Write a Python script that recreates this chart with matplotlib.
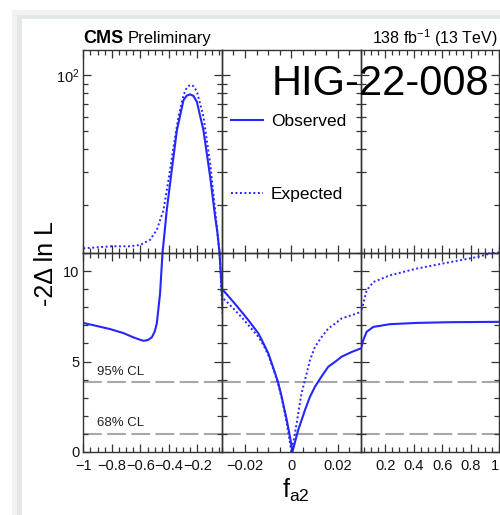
import matplotlib
matplotlib.use("Agg")
import matplotlib.pyplot as plt
from matplotlib.patches import Rectangle
from matplotlib.lines import Line2D
from matplotlib.ticker import FixedLocator, MultipleLocator, NullFormatter, LogLocator

plt.rcParams['font.family'] = ['Liberation Sans', 'DejaVu Sans']
plt.rcParams['mathtext.fontset'] = 'custom'
plt.rcParams['mathtext.rm'] = 'Liberation Sans'
plt.rcParams['mathtext.it'] = 'Liberation Sans:italic'
plt.rcParams['mathtext.bf'] = 'Liberation Sans:bold'

# Likelihood scan: -2 Delta ln L versus f_a2
fa2_obs = [-1.0, -0.9, -0.813, -0.72, -0.649, -0.6, -0.579, -0.55, -0.52, -0.50,
           -0.485, -0.462, -0.445, -0.415, -0.38, -0.344, -0.298, -0.275, -0.251,
           -0.228, -0.204, -0.158, -0.111, -0.076, -0.06, -0.045, -0.03,
           -0.0271, -0.0243, -0.0214, -0.0185, -0.0142, -0.012, -0.0099, -0.0070,
           -0.0056, -0.0042, -0.0020, -0.0006, 0.0005,
           0.0016, 0.0030, 0.0059, 0.0080, 0.0102, 0.0131, 0.0159, 0.0188, 0.0217,
           0.026, 0.030,
           0.046, 0.070, 0.117, 0.234, 0.42, 0.655, 1.0]
nll_obs = [7.14, 6.96, 6.80, 6.58, 6.34, 6.20, 6.15, 6.18, 6.34, 6.65,
           7.10, 8.77, 11.0, 18.8, 30.9, 50.6, 73.5, 77.8, 79.0,
           77.5, 72.0, 50.6, 28.5, 17.3, 14.2, 11.0, 9.04,
           8.62, 8.20, 7.75, 7.29, 6.56, 6.00, 5.45, 4.35,
           3.79, 3.06, 1.77, 0.83, 0.0,
           0.55, 1.22, 2.32, 3.04, 3.61, 4.19, 4.71, 4.98, 5.27,
           5.53, 5.73,
           6.19, 6.65, 6.92, 7.07, 7.14, 7.18, 7.20]

fa2_exp = [-1.0, -0.8, -0.672, -0.602, -0.532, -0.485, -0.438, -0.403, -0.368,
           -0.333, -0.298, -0.275, -0.251, -0.228, -0.204, -0.158, -0.111, -0.076,
           -0.045, -0.03,
           -0.0271, -0.0243, -0.0214, -0.0185, -0.0142, -0.012, -0.0099, -0.0070,
           -0.0056, -0.0042, -0.0020, 0.0,
           0.0013, 0.0023, 0.0033, 0.0044, 0.0066, 0.0080, 0.0102, 0.0131, 0.0159,
           0.0188, 0.0217, 0.026, 0.030,
           0.046, 0.070, 0.117, 0.234, 0.42, 0.655, 0.85, 1.0]
nll_exp = [11.7, 12.0, 12.0, 12.2, 13.0, 14.7, 18.8, 27.3, 41.0,
           60.0, 78.0, 86.0, 89.0, 87.5, 82.0, 60.0, 33.6, 18.8,
           11.0, 8.58,
           8.22, 7.85, 7.45, 7.02, 6.37, 5.90, 5.35, 4.30,
           3.70, 3.00, 1.60, 0.0,
           0.83, 1.58, 2.40, 3.24, 4.35, 5.07, 5.82, 6.37, 6.83,
           7.10, 7.39, 7.57, 7.75,
           8.20, 8.95, 9.41, 9.78, 10.15, 10.51, 10.80, 11.12]

cl_levels = [1.0, 3.84]
cl_labels = ["68% CL", "95% CL"]

x_ranges = [(-1.0, -0.03), (-0.03, 0.03), (0.03, 1.0)]
x_major = [[-1.0, -0.8, -0.6, -0.4, -0.2], [-0.02, 0.0, 0.02], [0.2, 0.4, 0.6, 0.8, 1.0]]
x_ticklabels = [["\u22121", "\u22120.8", "\u22120.6", "\u22120.4", "\u22120.2"],
                ["\u22120.02", "0", "0.02"],
                ["0.2", "0.4", "0.6", "0.8", "1"]]
x_minor_step = [0.05, 0.005, 0.05]
y_lin_range = (0.0, 11.0)
y_log_range = (11.0, 137.0)

W, H = 500, 515
fig = plt.figure(figsize=(W / 100, H / 100), dpi=100)
fig.patch.set_facecolor('white')


def fx(px):
    return px / W


def fy(py):
    return 1.0 - py / H


# slide frame with a soft edge
fig.patches.append(Rectangle((fx(12), 0), 1 - fx(12), fy(10), transform=fig.transFigure,
                             facecolor='#f1f3f3', edgecolor='none', zorder=-10))
fig.patches.append(Rectangle((fx(17), 0), 1 - fx(17), fy(15), transform=fig.transFigure,
                             facecolor='#e4e7e7', edgecolor='none', zorder=-9))
fig.patches.append(Rectangle((fx(21.5), 0), 1 - fx(21.5), fy(18.5), transform=fig.transFigure,
                             facecolor='white', edgecolor='none', zorder=-8))

col_px = [83.3, 221.7, 361.0, 499.0]
row_top, row_mid, row_bot = 50.0, 253.3, 451.7

line_col = '#2626ff'
spine_col = '#333333'
tick_fs = 10.5

axes_top, axes_bot = [], []
for i in range(3):
    x0, x1 = col_px[i], col_px[i + 1]
    for row in ('top', 'bot'):
        if row == 'top':
            rect = [fx(x0), fy(row_mid), fx(x1) - fx(x0), (row_mid - row_top) / H]
        else:
            rect = [fx(x0), fy(row_bot), fx(x1) - fx(x0), (row_bot - row_mid) / H]
        ax = fig.add_axes(rect)
        ax.set_facecolor('none')
        ax.set_xlim(*x_ranges[i])
        ax.plot(fa2_obs, nll_obs, color=line_col, lw=1.5, solid_joinstyle='round')
        ax.plot(fa2_exp, nll_exp, color=line_col, lw=1.4, linestyle=(0, (1, 1.3)))
        ax.xaxis.set_major_locator(FixedLocator(x_major[i]))
        ax.xaxis.set_minor_locator(MultipleLocator(x_minor_step[i]))
        ax.set_xticklabels(x_ticklabels[i])
        if row == 'top':
            ax.set_yscale('log')
            ax.set_ylim(*y_log_range)
            ax.yaxis.set_major_locator(FixedLocator([100.0]))
            ax.set_yticklabels([r'$\mathregular{10^{2}}$'])
            ax.yaxis.set_minor_locator(LogLocator(base=10, subs=[2, 3, 4, 5, 6, 7, 8, 9]))
            ax.yaxis.set_minor_formatter(NullFormatter())
            axes_top.append(ax)
        else:
            ax.set_ylim(*y_lin_range)
            ax.yaxis.set_major_locator(FixedLocator([0, 5, 10]))
            ax.yaxis.set_minor_locator(MultipleLocator(1))
            for lev in cl_levels:
                ax.axhline(lev, color='#a8a8a8', lw=1.5, dashes=(9, 2.6), zorder=1)
            axes_bot.append(ax)
        for s in ax.spines.values():
            s.set_color(spine_col)
            s.set_linewidth(1.0)
        ax.tick_params(which='both', direction='in', top=True, right=True,
                       color=spine_col, width=0.9, labelsize=tick_fs, labelcolor='#111111')
        ax.tick_params(which='major', length=6)
        ax.tick_params(which='minor', length=3.5)
        ax.tick_params(axis='x', pad=5)
        ax.tick_params(axis='y', pad=3)
        ax.tick_params(labelbottom=(row == 'bot'), labelleft=(i == 0))

# keep the last label of the right pad inside the canvas
axes_bot[2].get_xticklabels()[-1].set_horizontalalignment('right')

# confidence-level labels
for lev, lab in zip(cl_levels, cl_labels):
    axes_bot[0].text(-0.905, lev + 0.58, lab, fontsize=9.5, color='#222222',
                     ha='left', va='center')

# legend in the upper middle pad
handles = [Line2D([], [], color=line_col, lw=1.5),
           Line2D([], [], color=line_col, lw=1.4, linestyle=(0, (1, 1.3)))]
axes_top[1].legend(handles, ["Observed", "Expected"], loc='upper left',
                   bbox_to_anchor=(fx(231), fy(114)), bbox_transform=fig.transFigure,
                   frameon=False, fontsize=12.5, handlelength=1.85, handletextpad=0.45,
                   labelspacing=3.35, borderpad=0, borderaxespad=0)

fig.text(fx(83), fy(43.3), "CMS", fontsize=13, fontweight='bold', va='baseline', ha='left')
fig.text(fx(128), fy(43.3), "Preliminary", fontsize=12, va='baseline', ha='left')
fig.text(fx(498), fy(44), r"138 fb$^{\mathregular{-1}}$ (13 TeV)", fontsize=11.5,
         va='baseline', ha='right')
fig.text(fx(272), fy(95), "HIG-22-008", fontsize=30, va='baseline', ha='left')
fig.text(fx(46), fy(263), "-2\u0394 ln L", fontsize=18, rotation=90, ha='center', va='center')
fig.text(fx(282), fy(498), r"f$_{\mathregular{a2}}$", fontsize=18, va='baseline', ha='left')

fig.savefig("out.png", dpi=100)
